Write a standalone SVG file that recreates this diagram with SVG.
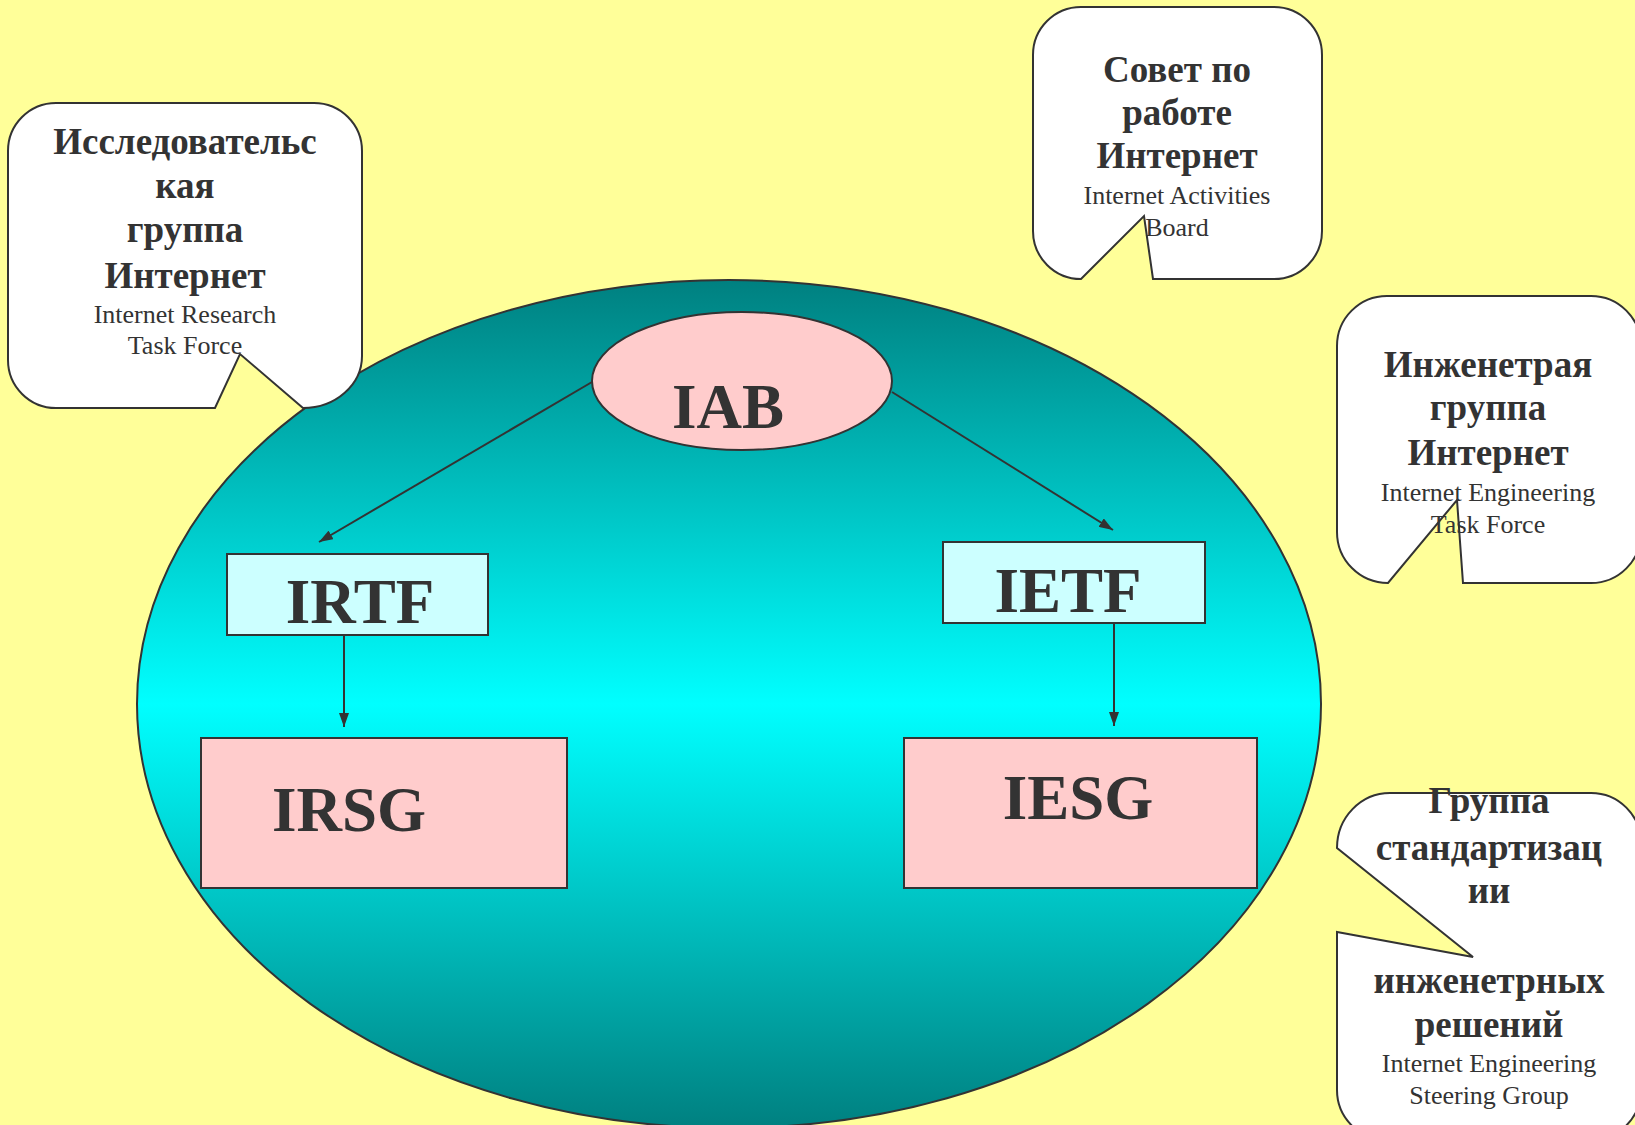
<svg xmlns="http://www.w3.org/2000/svg" width="1635" height="1125" viewBox="0 0 1635 1125">
<defs>
<linearGradient id="tealGrad" x1="0" y1="0" x2="0" y2="1">
<stop offset="0" stop-color="#008080"/>
<stop offset="0.5" stop-color="#00FFFF"/>
<stop offset="1" stop-color="#008080"/>
</linearGradient>
<marker id="arrow" markerUnits="userSpaceOnUse" markerWidth="14" markerHeight="10" refX="14" refY="5" orient="auto">
<path d="M0,0 L14,5 L0,10 Z" fill="#333333"/>
</marker>
<style>
.outline{stroke:#333333;stroke-width:2}
.callout{fill:#FFFFFF;stroke:#333333;stroke-width:2;stroke-linejoin:miter}
.pink{fill:#FFCCCC}
.cyan{fill:#CCFFFF}
.big{font-family:"Liberation Serif","Times New Roman",serif;font-weight:bold;font-size:63px;fill:#333333;text-anchor:middle}
.head{font-family:"Liberation Serif","Times New Roman",serif;font-weight:bold;font-size:37px;fill:#333333;text-anchor:middle}
.sub{font-family:"Liberation Serif","Times New Roman",serif;font-size:26px;fill:#333333;text-anchor:middle}
.conn{stroke:#333333;stroke-width:2;fill:none}
</style>
</defs>
<rect x="0" y="0" width="1635" height="1125" fill="#FFFF99"/>
<g id="internet-society">
<ellipse cx="729" cy="704" rx="592" ry="424" fill="url(#tealGrad)" class="outline"/>
</g>
<g id="connectors">
<line class="conn" x1="592" y1="382" x2="319" y2="542" marker-end="url(#arrow)"/>
<line class="conn" x1="892" y1="392" x2="1113" y2="530" marker-end="url(#arrow)"/>
<line class="conn" x1="344" y1="635" x2="344" y2="727" marker-end="url(#arrow)"/>
<line class="conn" x1="1114" y1="623" x2="1114" y2="726" marker-end="url(#arrow)"/>
</g>
<g id="IAB">
<ellipse cx="742" cy="381" rx="150" ry="69" class="pink outline"/>
<text class="big" x="728" y="428">IAB</text>
</g>
<g id="IRTF">
<rect x="227" y="554" width="261" height="81" class="cyan outline"/>
<text class="big" x="360" y="623">IRTF</text>
</g>
<g id="IETF">
<rect x="943" y="542" width="262" height="81" class="cyan outline"/>
<text class="big" x="1068" y="612">IETF</text>
</g>
<g id="IRSG">
<rect x="201" y="738" width="366" height="150" class="pink outline"/>
<text class="big" x="349" y="831">IRSG</text>
</g>
<g id="IESG">
<rect x="904" y="738" width="353" height="150" class="pink outline"/>
<text class="big" x="1078" y="819">IESG</text>
</g>
<g id="callout-irtf">
<path class="callout" d="M56,103 H314 A48 48 0 0 1 362,151 V356 A59 52 0 0 1 303,408 L240,354 L215,408 H56 A48 48 0 0 1 8,360 V151 A48 48 0 0 1 56,103 Z"/>
<text class="head" x="185" y="154">Исследовательс</text>
<text class="head" x="185" y="198">кая</text>
<text class="head" x="185" y="242">группа</text>
<text class="head" x="185" y="288">Интернет</text>
<text class="sub" x="185" y="323">Internet Research</text>
<text class="sub" x="185" y="354">Task Force</text>
</g>
<g id="callout-iab">
<path class="callout" d="M1081,7 H1274 A48 48 0 0 1 1322,55 V231 A48 48 0 0 1 1274,279 H1153 L1144,216 L1081,279 A48 48 0 0 1 1033,231 V55 A48 48 0 0 1 1081,7 Z"/>
<text class="head" x="1177" y="82">Совет по</text>
<text class="head" x="1177" y="125">работе</text>
<text class="head" x="1177" y="168">Интернет</text>
<text class="sub" x="1177" y="204">Internet Activities</text>
<text class="sub" x="1177" y="236">Board</text>
</g>
<g id="callout-ietf">
<path class="callout" d="M1387,296 H1591 A50 50 0 0 1 1641,346 V533 A50 50 0 0 1 1591,583 H1463 L1457,500 L1388,583 A51 51 0 0 1 1337,532 V346 A50 50 0 0 1 1387,296 Z"/>
<text class="head" x="1488" y="377">Инженетрая</text>
<text class="head" x="1488" y="420">группа</text>
<text class="head" x="1488" y="465">Интернет</text>
<text class="sub" x="1488" y="501">Internet Engineering</text>
<text class="sub" x="1488" y="533">Task Force</text>
</g>
<g id="callout-iesg">
<path class="callout" d="M1390,793 H1591 A50 50 0 0 1 1641,843 V1090 A50 50 0 0 1 1591,1140 H1387 A50 50 0 0 1 1337,1090 V932 L1473,957 L1337,848 A53 55 0 0 1 1390,793 Z"/>
<text class="head" x="1489" y="813">Группа</text>
<text class="head" x="1489" y="860">стандартизац</text>
<text class="head" x="1489" y="903">ии</text>
<text class="head" x="1489" y="993">инженетрных</text>
<text class="head" x="1489" y="1037">решений</text>
<text class="sub" x="1489" y="1072">Internet Engineering</text>
<text class="sub" x="1489" y="1104">Steering Group</text>
</g>
</svg>
